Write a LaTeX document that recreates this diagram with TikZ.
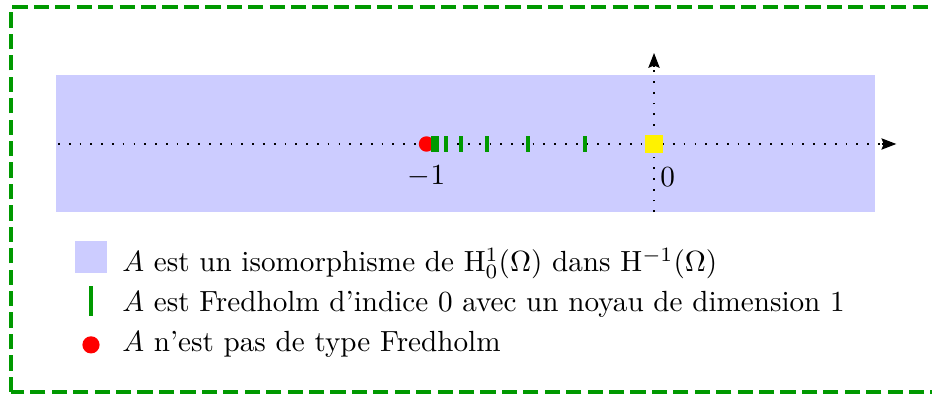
\documentclass[tikz,border=0pt]{standalone}
\usepackage{xcolor}
\usepackage{amsmath}
\usepackage{amssymb}
\usepackage{tikz}
\usetikzlibrary{arrows.meta, positioning}
\tikzset{
  % the frame round the whole sketch
  frame/.style  = {draw=green!60!black, line width=1.35pt,
                   dash pattern=on 5.2pt off 2.15pt},
  % the region where A is an isomorphism
  iso/.style    = {fill=blue!20, draw=none},
  % a dotted axis
  ax/.style     = {line width=0.6pt, dash pattern=on 0.6pt off 3.1pt},
  axtip/.style  = {-{Stealth[length=5.1pt,width=3.9pt,inset=0.8pt]}},
  % an eigenvalue: Fredholm of index 0
  ev/.style     = {fill=green!60!black, inner sep=0pt,
                   minimum width=1.4pt, minimum height=5.2pt},
  % the point where A is not Fredholm
  nf/.style     = {circle, fill=red, inner sep=0pt, minimum size=5.3pt},
  % the origin
  org/.style    = {fill=yellow, inner sep=0pt, minimum size=6.1pt},
  % a legend line
  lg/.style     = {anchor=base west, inner sep=0pt},
}
\begin{document}
\begin{tikzpicture}[x=2.742cm, y=2.742cm]
  \useasboundingbox (-2.875,-1.108) rectangle (1.222,0.633);
  % --- frame and region ---
  \draw[frame] (-2.825,-1.09) rectangle (1.40,0.601);
  \fill[iso] (-2.628,-0.3) rectangle (0.97,0.303);
  % --- axes ---
  \coordinate (xl) at (-2.62,0);
  \coordinate (xr) at (1.065,0);
  \coordinate (yb) at (0,-0.3);
  \coordinate (yt) at (0,0.40);
  \draw[ax] (xl) -- (1.0,0);
  \draw[axtip] (1.0,0) -- (xr);
  \draw[ax] (yb) -- (0,0.34);
  \draw[axtip] (0,0.34) -- (yt);
  % --- the spectrum ---
  \node[nf] (m1) at (-1,0) {};
  \foreach \v [count=\i] in {-0.303,-0.555,-0.734,-0.847,-0.914,-0.953,-0.973}
    \node[ev] (t\i) at (\v,0) {};
  \node[org] (o) at (0,0) {};
  \node[anchor=base, inner sep=0pt] (lm1) at (-1,-0.18) {$-1$};
  \node[anchor=base west, inner sep=0pt] (l0) at (0.025,-0.185) {$0$};
  % --- legend ---
  \node[iso, minimum size=11pt, inner sep=0pt] (k1) at (-2.475,-0.497) {};
  \node[ev, minimum width=1.2pt, minimum height=10pt] (k2) at (-2.475,-0.69) {};
  \node[nf, minimum size=5.9pt] (k3) at (-2.475,-0.883) {};
  \node[lg] (g1) at (-2.34,-0.561)
    {$A$ est un isomorphisme de $\mathrm{H}^1_0(\Omega)$ dans $\mathrm{H}^{-1}(\Omega)$};
  \node[lg] (g2) at (-2.34,-0.737)
    {$A$ est Fredholm d'indice $0$ avec un noyau de dimension $1$};
  \node[lg] (g3) at (-2.34,-0.913)
    {$A$ n'est pas de type Fredholm};
\end{tikzpicture}
\end{document}
